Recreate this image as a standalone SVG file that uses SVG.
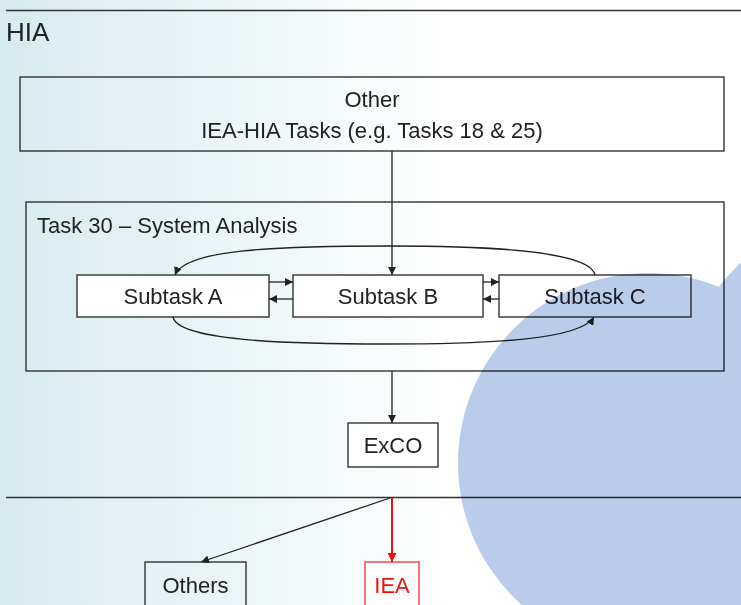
<svg xmlns="http://www.w3.org/2000/svg" width="741" height="605" viewBox="0 0 741 605">
<defs>
<linearGradient id="bg" x1="0" y1="0" x2="450" y2="0" gradientUnits="userSpaceOnUse">
<stop offset="0" stop-color="#d6ebef"/>
<stop offset="1" stop-color="#ffffff"/>
</linearGradient>
<marker id="ah" viewBox="0 0 10 10" refX="10" refY="5" markerWidth="8" markerHeight="8" markerUnits="userSpaceOnUse" orient="auto">
<path d="M0,0 L10,5 L0,10 Z" fill="#222"/>
</marker>
<marker id="ahr" viewBox="0 0 10 10" refX="10" refY="5" markerWidth="9" markerHeight="9" markerUnits="userSpaceOnUse" orient="auto">
<path d="M0,0 L10,5 L0,10 Z" fill="#f01010"/>
</marker>
<style>
text{font-family:"Liberation Sans",Arial,sans-serif;font-size:22px;fill:#222;}
.box{fill:none;stroke:#333;stroke-width:1.4;}
.wbox{fill:#fff;stroke:#333;stroke-width:1.4;}
.ln{fill:none;stroke:#333;stroke-width:1.4;}
.arr{fill:none;stroke:#222;stroke-width:1.3;marker-end:url(#ah);}
.red{fill:none;stroke:#f01010;stroke-width:2;marker-end:url(#ahr);}
</style>
</defs>
<rect x="0" y="0" width="741" height="605" fill="url(#bg)"/>
<line class="ln" x1="6" y1="10.5" x2="741" y2="10.5"/>
<line class="ln" x1="6" y1="497.5" x2="741" y2="497.5"/>
<text x="6" y="41" style="font-size:26px">HIA</text>

<g id="other">
<rect class="box" x="20" y="77" width="704" height="74"/>
<text x="372" y="107" text-anchor="middle">Other</text>
<text x="372" y="138" text-anchor="middle">IEA-HIA Tasks (e.g. Tasks 18 &amp; 25)</text>
</g>
<g id="task30">
<rect class="box" x="26" y="202" width="698" height="169"/>
<text x="37" y="233">Task 30 – System Analysis</text>
</g>
<g id="subtaskA">
<rect class="wbox" x="77" y="275" width="192" height="42"/>
<text x="173" y="304" text-anchor="middle">Subtask A</text>
</g>
<g id="subtaskB">
<rect class="wbox" x="293" y="275" width="190" height="42"/>
<text x="388" y="304" text-anchor="middle">Subtask B</text>
</g>
<g id="subtaskC">
<rect class="wbox" x="499" y="275" width="192" height="42"/>
<text x="595" y="304" text-anchor="middle">Subtask C</text>
</g>
<g id="exco">
<rect class="wbox" x="348" y="423" width="90" height="44"/>
<text x="393" y="453" text-anchor="middle">ExCO</text>
</g>
<g id="others">
<rect class="box" x="145" y="562" width="101" height="50"/>
<text x="195.5" y="593" text-anchor="middle">Others</text>
</g>
<g id="iea">
<rect x="365" y="562" width="54" height="50" fill="#fff" stroke="#f04040" stroke-width="1.4"/>
<text x="392" y="593" text-anchor="middle" style="fill:#f01010">IEA</text>
</g>

<g id="connectors">
<line class="arr" x1="392" y1="151" x2="392" y2="275"/>
<line class="arr" x1="269" y1="282" x2="293" y2="282"/>
<line class="arr" x1="293" y1="299" x2="269" y2="299"/>
<line class="arr" x1="483" y1="282" x2="499" y2="282"/>
<line class="arr" x1="499" y1="299" x2="483" y2="299"/>
<path class="arr" d="M595,275 C590,252 500,246 390,246 C270,246 185,250 175,275"/>
<path class="arr" d="M173,317 C178,340 280,344 385,344 C490,344 580,340 594,317"/>
<line class="arr" x1="392" y1="371" x2="392" y2="423"/>
<line class="arr" x1="390" y1="498" x2="201" y2="562"/>
<line class="red" x1="392" y1="498" x2="392" y2="562"/>
</g>

<g id="decor" style="mix-blend-mode:multiply">
<circle cx="648" cy="463" r="190" fill="#b9cce9"/>
<circle cx="900" cy="430" r="231" fill="#b9cce9"/>
</g>
</svg>
